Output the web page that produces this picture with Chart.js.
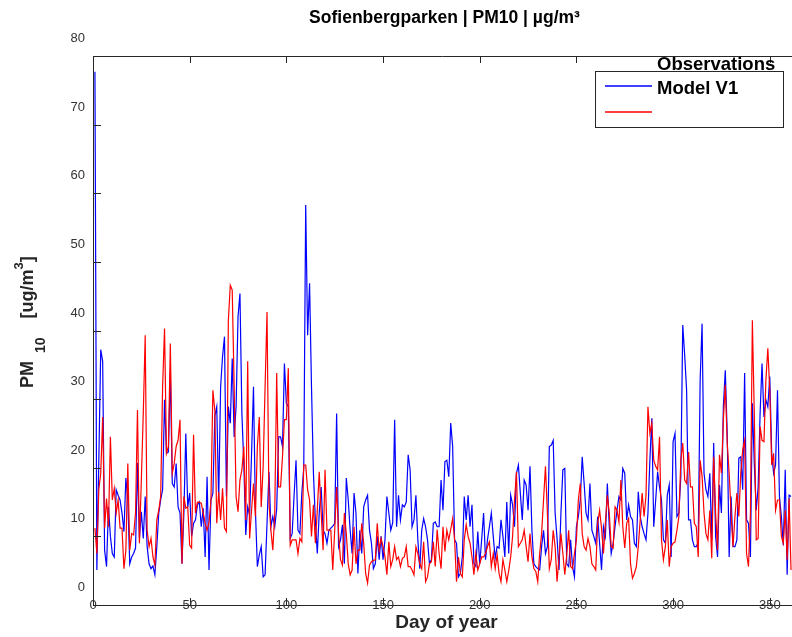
<!DOCTYPE html>
<html>
<head>
<meta charset="utf-8">
<script src="https://cdn.jsdelivr.net/npm/chart.js@4"></script>
<style>
  html, body { margin: 0; padding: 0; background: #fff; }
  #wrap { width: 792px; height: 637px; }
</style>
</head>
<body>
<div id="wrap"><canvas id="myChart" width="792" height="637"></canvas></div>
<script>
// Sofienbergparken PM10, daily values
const days = Array.from({ length: 361 }, (_, i) => i + 1);

// blue line
const observations = [
  77.7, 5.1, 21, 37.2, 35.5, 8, 5.6, 14.3, 10, 7.5,
  7, 16.8, 16, 15.3, 13.4, 10.7, 18.5, 15.3, 6, 7,
  7.5, 8.3, 20.7, 9.7, 13.6, 9.7, 15.8, 8.5, 6, 5.3,
  5.7, 4.4, 8.5, 13.4, 15.3, 16.8, 29.9, 22.1, 22.3, 33.8,
  17.7, 17.2, 20.6, 14.3, 13.4, 6, 13.4, 25, 14.3, 16.3,
  10, 11.9, 12.4, 14.6, 15, 11.4, 14.1, 7, 18.7, 5.1,
  15.3, 16.3, 27.5, 28.9, 15.3, 31.8, 36.2, 39.1, 15.8, 28.9,
  26.5, 35.9, 24.5, 28.9, 42, 45.4, 27.9, 20.6, 10.2, 14.3,
  13.1, 22, 31.8, 13.8, 5.6, 7.3, 8.5, 4.1, 4.4, 11.9,
  19.4, 11.4, 12.9, 11.4, 14, 24.5, 24.5, 23.1, 35.2, 29.4,
  28.9, 9.7, 10.4, 16, 21.1, 10.9, 10.4, 16.3, 20, 58.3,
  39.3, 46.9, 31.8, 19.2, 12.4, 7.5, 13.4, 17.2, 10.9, 10.4,
  9, 10.9, 11.2, 11.5, 11.9, 27.9, 8.5, 9.5, 11.7, 6,
  18.5, 15.3, 10.9, 7.5, 16.3, 13.4, 4.6, 10.9, 7.5, 14.3,
  15.3, 16, 10.9, 9, 5.3, 6, 10, 6.6, 10, 6.6,
  9.5, 15.8, 13.4, 10.9, 12, 27, 11.4, 16, 12.4, 14.6,
  14.3, 15, 21.9, 19.7, 11.4, 12.4, 16, 9.5, 5.3, 10.9,
  12.6, 11.4, 9.5, 6, 6.6, 11.9, 12.1, 11.4, 11.4, 18.2,
  13.8, 20.9, 21.1, 18.7, 26.5, 23.1, 9.5, 9, 4.1, 4.6,
  7, 15.8, 12.4, 16, 11.4, 14.6, 6, 5.6, 10.7, 6,
  9.5, 13.4, 6.6, 9.5, 11.4, 13.4, 10, 6.8, 8.5, 8.3,
  12.4, 10, 7, 15, 7.5, 16, 14.6, 11.4, 19.2, 20.4,
  16.3, 12.4, 18.2, 17.5, 13.8, 20.2, 10.9, 6, 5.6, 5.3,
  5.1, 8.5, 10.9, 7.5, 8.5, 23.1, 23.3, 24, 13.4, 9.7,
  5.1, 13.4, 19.7, 19.9, 6, 5.6, 9.5, 5.6, 4.1, 11.4,
  12.9, 15.3, 21.6, 17.7, 13.4, 12.4, 17.7, 10.9, 10, 9,
  12.9, 9, 5.1, 11.4, 10, 17.7, 11.4, 7.5, 9, 11.5,
  13.8, 15.8, 15.3, 19.9, 19.2, 12.4, 14.6, 12.9, 12.4, 9,
  8.5, 16.5, 12.9, 11.4, 10.4, 9.5, 13.4, 21.1, 27.2, 11.4,
  15.3, 19.4, 17.2, 15.3, 9.5, 9, 16, 17.5, 7, 23.8,
  25, 12.9, 13.4, 18.7, 40.8, 36.4, 31.3, 12.4, 12.4, 9.5,
  8.5, 8.5, 9.2, 32.8, 41, 19.2, 16.8, 15.8, 19.2, 9.5,
  23.6, 10, 7, 17.5, 13.4, 28.9, 34.2, 25, 7, 15.8,
  8.5, 8.5, 9.5, 21.4, 21.6, 16.8, 33.8, 12.4, 11.9, 7,
  29.4, 20.6, 13.8, 17.2, 27.9, 35.2, 27.4, 29.9, 28.9, 33.3,
  22.1, 19.2, 20.4, 31.3, 15.8, 12.9, 8.7, 19.7, 4.4, 16,
  15.8
];

// red line
const modelV1 = [
  11.2, 7.5, 16.8, 19.2, 27.4, 11.2, 15.5, 11.4, 24.5, 15.3,
  17, 13.4, 15.3, 11.2, 11.2, 5.3, 8, 20.6, 8, 10.4,
  10.2, 13.4, 28.4, 9, 18.2, 27.9, 39.3, 10.9, 8.5, 9.7,
  7, 5.8, 12.4, 13.8, 15.8, 31.8, 40.3, 22.1, 23.1, 38.1,
  19.2, 20.6, 23.1, 24, 27, 6, 15.8, 14.1, 14.3, 8.7,
  8.3, 24.8, 13.4, 15, 15, 14.8, 13.4, 11.9, 10.9, 12,
  15.3, 31.3, 28.4, 11.9, 16.5, 12.4, 17, 11.2, 10.7, 41.5,
  46.6, 45.9, 31.8, 15.8, 13.6, 18.2, 19.7, 23.1, 12.4, 35.5,
  9.7, 13.8, 17.7, 12.9, 23.1, 27.4, 14.3, 20.2, 31.8, 42.7,
  15, 10.9, 8, 13.4, 33.8, 17.2, 17.2, 21.6, 27, 27,
  34.5, 8.7, 9.5, 9.5, 9.5, 7.5, 9.7, 9.2, 20.4, 20.4,
  16.8, 15.3, 10, 14.6, 9, 13.8, 19.4, 13.4, 8, 19.7,
  10.9, 10.9, 10.9, 5.1, 10.9, 17.2, 10.4, 6.6, 5.8, 13.4,
  10.4, 6, 4.4, 5.1, 11.4, 6, 8, 8, 11.9, 9,
  4.6, 3.2, 5.8, 6.3, 6.5, 6.6, 11.9, 8, 9.7, 8.5,
  7, 4.4, 9.2, 5.6, 6.6, 8.5, 6.6, 7, 5.6, 6.8,
  7, 8.5, 5.6, 5.6, 5.1, 4.4, 8.5, 7.5, 6, 5.3,
  9.2, 3.4, 4.1, 6, 6.3, 9.2, 5.6, 11, 7.5, 5.3,
  11.4, 7.8, 10.9, 9.5, 11, 12.6, 9.5, 3.4, 7, 4.6,
  4.1, 9.5, 11.7, 10, 9, 7, 4.4, 7.5, 5.1, 6,
  7, 7, 7.5, 8.5, 9.2, 5.6, 7.5, 5.3, 7.3, 4.6,
  3.4, 6.6, 5.1, 3.4, 5, 7, 10, 15.3, 19.4, 8.5,
  9, 9.5, 10.9, 8.5, 6.3, 10.4, 7, 5.3, 4.9, 3.4,
  7.5, 10.4, 15.3, 20.2, 13.4, 5.3, 6.6, 10.9, 8.5, 3.4,
  7, 10.4, 7.5, 4.4, 7.3, 10.9, 5.6, 5.3, 7.5, 9.5,
  15.3, 17.7, 10.4, 8.5, 8, 9.7, 8.5, 6, 5.6, 5.1,
  11.9, 13.8, 11.2, 7.5, 12, 16, 13.4, 8.5, 8.3, 14.3,
  13.8, 12.1, 18.2, 11.4, 8.3, 11.9, 12.6, 6, 3.9, 4.6,
  5.6, 8.5, 12.4, 16.3, 12.9, 16, 28.9, 25, 26.5, 21.1,
  20.2, 19.7, 24.5, 9.5, 6.6, 8.5, 12.4, 5.6, 8.5, 9,
  9.2, 10.9, 12.9, 21.1, 23.6, 18.2, 17.7, 22.3, 17.2, 17.2,
  11.9, 11.4, 7, 21.1, 18.7, 13.4, 10.4, 9.5, 13.8, 6.8,
  21.6, 13.4, 8, 21.9, 19.2, 27, 32.1, 23.6, 19.2, 13.4,
  8.5, 12.9, 16.3, 12.9, 19.2, 22.6, 24, 7.5, 5.6, 13.4,
  41.5, 27.9, 9.5, 9.7, 26, 24, 23.8, 32.8, 37.4, 31.3,
  20.4, 22.1, 13.8, 15.3, 15.3, 10, 9, 13.8, 6.6, 15.5,
  5.1
];

const xTicks = [0, 50, 100, 150, 200, 250, 300, 350];
const yTicks = [0, 10, 20, 30, 40, 50, 60, 70, 80];

const FONT = '"Liberation Sans", Arial, Helvetica, sans-serif';
const AXIS_COLOR = '#262626';

function toPoints(vals) {
  return days.map((d, i) => ({ x: d, y: vals[i] }));
}

// title, axis titles, x tick labels sitting on the axis line, inside ticks, legend
const decorations = {
  id: 'decorations',
  afterDatasetsDraw(chart) {
    const { ctx, chartArea: a, scales } = chart;
    ctx.save();
    ctx.strokeStyle = AXIS_COLOR;
    ctx.lineWidth = 1;

    // top border
    ctx.beginPath();
    ctx.moveTo(a.left, a.top + 0.5);
    ctx.lineTo(a.right, a.top + 0.5);
    ctx.stroke();

    // tick marks pointing inwards
    ctx.beginPath();
    yTicks.forEach(v => {
      const py = Math.round(scales.y.getPixelForValue(v)) + 0.5;
      ctx.moveTo(a.left, py);
      ctx.lineTo(a.left + 8, py);
    });
    xTicks.forEach(v => {
      const px = Math.round(scales.x.getPixelForValue(v)) + 0.5;
      ctx.moveTo(px, a.top);
      ctx.lineTo(px, a.top + 7);
      ctx.moveTo(px, a.bottom);
      ctx.lineTo(px, a.bottom - 7);
    });
    ctx.stroke();

    // x tick labels, centred on the axis line
    ctx.fillStyle = '#333';
    ctx.font = '13px ' + FONT;
    ctx.textAlign = 'center';
    ctx.textBaseline = 'middle';
    xTicks.forEach(v => {
      ctx.fillText(String(v), scales.x.getPixelForValue(v), a.bottom + 0.5);
    });

    // title
    ctx.fillStyle = '#000';
    ctx.font = 'bold 17.5px ' + FONT;
    ctx.fillText('Sofienbergparken | PM10 | µg/m³', (a.left + a.right) / 2 + 2, 18);

    // x axis title
    ctx.fillStyle = '#262626';
    ctx.font = 'bold 19px ' + FONT;
    ctx.fillText('Day of year', (a.left + a.right) / 2 + 4, 623);

    // y axis title: PM_10 [ug/m^3]
    ctx.save();
    ctx.translate(33, 388);
    ctx.rotate(-Math.PI / 2);
    ctx.textAlign = 'left';
    ctx.textBaseline = 'alphabetic';
    let cx = 0;
    ctx.font = 'bold 18px ' + FONT;
    ctx.fillText('PM', cx, 0);
    cx += ctx.measureText('PM').width + 8;
    ctx.font = 'bold 14px ' + FONT;
    ctx.fillText('10', cx, 12);
    cx += ctx.measureText('10').width + 19;
    ctx.font = 'bold 18px ' + FONT;
    ctx.fillText('[ug/m', cx, 0);
    cx += ctx.measureText('[ug/m').width;
    ctx.font = 'bold 13px ' + FONT;
    ctx.fillText('3', cx, -10);
    cx += ctx.measureText('3').width;
    ctx.font = 'bold 18px ' + FONT;
    ctx.fillText(']', cx, 0);
    ctx.restore();

    // legend box
    ctx.fillStyle = '#fff';
    ctx.fillRect(595, 71, 188, 56);
    ctx.strokeStyle = '#262626';
    ctx.strokeRect(595.5, 71.5, 188, 56);
    ctx.lineWidth = 1.5;
    ctx.strokeStyle = '#0000ff';
    ctx.beginPath(); ctx.moveTo(605, 86); ctx.lineTo(652, 86); ctx.stroke();
    ctx.strokeStyle = '#ff0000';
    ctx.beginPath(); ctx.moveTo(605, 112); ctx.lineTo(652, 112); ctx.stroke();
    ctx.fillStyle = '#000';
    ctx.font = 'bold 18.5px ' + FONT;
    ctx.textAlign = 'left';
    ctx.textBaseline = 'middle';
    ctx.fillText('Observations', 657, 65);
    ctx.fillText('Model V1', 657, 89);

    ctx.restore();
  }
};

const ctx = document.getElementById('myChart').getContext('2d');
const myChart = new Chart(ctx, {
  type: 'line',
  data: {
    datasets: [
      {
        label: 'Observations',
        data: toPoints(observations),
        borderColor: '#0000ff',
        borderWidth: 1.2,
        pointRadius: 0,
        tension: 0,
        order: 1
      },
      {
        label: 'Model V1',
        data: toPoints(modelV1),
        borderColor: '#ff0000',
        borderWidth: 1.2,
        pointRadius: 0,
        tension: 0,
        order: 0
      }
    ]
  },
  options: {
    responsive: false,
    animation: false,
    events: [],
    layout: { padding: { top: 56, left: 0, right: 0, bottom: 0 } },
    plugins: {
      legend: { display: false },
      title: { display: false },
      tooltip: { enabled: false }
    },
    scales: {
      x: {
        type: 'linear',
        min: 0,
        max: 361.5,
        afterFit: scale => { scale.height = 32; },
        grid: { drawOnChartArea: false, drawTicks: false },
        border: { color: AXIS_COLOR, width: 1 },
        ticks: {
          display: false,
          stepSize: 50,
          includeBounds: false
        }
      },
      y: {
        min: 0,
        max: 80,
        afterFit: scale => { scale.width = 93; },
        grid: { drawOnChartArea: false, drawTicks: false },
        border: { color: AXIS_COLOR, width: 1 },
        ticks: {
          stepSize: 10,
          padding: 8,
          labelOffset: -17.5,
          color: '#333',
          font: { family: FONT, size: 13 }
        }
      }
    }
  },
  plugins: [decorations]
});
</script>
</body>
</html>
